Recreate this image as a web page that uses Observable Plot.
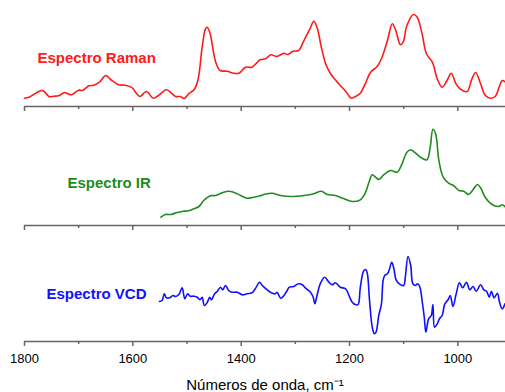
<!DOCTYPE html>
<html>
<head>
<meta charset="utf-8">
<script src="https://cdn.jsdelivr.net/npm/d3@7"></script>
<script src="https://cdn.jsdelivr.net/npm/@observablehq/plot@0.6"></script>
<style>
  html, body { margin: 0; padding: 0; background: #fff; }
  svg { display: block; }
</style>
</head>
<body>
<div id="chart"></div>
<script>
// ---- data (wavenumber in cm-1, intensity in arbitrary units) ----
const ramanWavenumber = [1800,1792,1783,1769,1764,1755,1746,1737,1726,1721,1713,1700,1693,1681,1672,1661,1650,1641,1626,1614,1601,1595,1587,1575,1562,1552,1538,1530,1521,1512,1505,1497,1487,1480,1472,1466,1463,1458,1447,1439,1426,1414,1404,1392,1380,1365,1355,1345,1334,1321,1314,1304,1294,1284,1273,1266,1260,1252,1244,1235,1224,1217,1207,1197,1189,1180,1171,1161,1149,1140,1130,1121,1115,1106,1101,1094,1082,1075,1066,1058,1047,1038,1029,1020,1012,1004,996,983,974,967,958,949,940,931,918,912];
const ramanIntensity = [8.3,9.3,12,16,15.3,10,10.3,10.7,14,13,11.7,16.3,16,20.7,21.3,24.7,31,27,21.7,21.3,18.7,14.3,10,15,8.3,11.3,16.7,14,10,10,8,12.7,16.7,26,59.3,77.7,79.3,74.3,44.3,36,35.3,33.3,33.3,39.3,39.3,46.7,47.7,51.7,50,53.3,52,55.3,56,66,77.7,85.3,79.3,59.3,42.7,32.7,25.3,21,15.3,8.3,10,13.3,22.7,34.3,40,49.3,66,82.7,76.7,61.7,64.3,81,92,89.3,72.7,52.7,44.3,27.7,19.3,26,33.3,23.3,17.7,15,27.7,34,22.7,11,8.3,10,26,24.3];

const irWavenumber = [1548,1540,1530,1518,1507,1499,1487,1478,1469,1457,1447,1435,1423,1414,1401,1389,1377,1365,1358,1343,1327,1309,1284,1266,1252,1241,1226,1210,1195,1180,1171,1164,1158,1152,1146,1137,1124,1112,1103,1094,1087,1078,1066,1057,1051,1046,1041,1035,1027,1017,1008,998,989,980,972,964,958,949,937,925,918,912];
const irIntensity = [8.3,11,11,13,14.3,14.5,16.7,19,25,29.7,30,32.7,34.3,33.3,30,27.3,28.3,29.7,31,32.3,30,29,30,31.7,34.3,31,30,26.7,24,25.7,32.3,43.3,50.7,48.3,46,50.7,55,53.3,61.7,73.3,75.7,72.3,67.3,65.7,78.3,96.3,91.7,65,48.3,42.3,40,35,34.3,31,35.7,41,37.7,27.7,21,19,20.7,18.3];

const vcdWavenumber = [1551,1546,1542,1538,1532,1526,1521,1515,1509,1504,1499,1494,1487,1481,1476,1472,1468,1463,1458,1455,1449,1444,1438,1434,1429,1423,1417,1407,1398,1389,1380,1374,1366,1361,1352,1346,1337,1334,1327,1321,1315,1311,1303,1294,1287,1281,1272,1267,1264,1260,1254,1246,1238,1232,1226,1217,1207,1201,1195,1188,1184,1180,1174,1170,1167,1163,1158,1154,1151,1146,1141,1138,1135,1130,1127,1122,1118,1114,1108,1100,1097,1092,1087,1083,1078,1074,1070,1066,1062,1059,1054,1049,1046,1043,1038,1034,1029,1024,1018,1014,1009,1003,997,991,984,978,972,966,958,952,947,942,938,933,927,923,918,913];
const vcdIntensity = [40,41,47.7,43.7,43.7,46,45,47,53.7,42.7,47.7,45.3,45.3,44.3,41.7,44.3,36,38.7,44.3,41.7,47.7,50.3,54.3,51.7,56,51,49.3,49.3,46.7,47.7,48.7,52.7,59.3,56,51.7,49.3,47.7,49.3,43.3,46,51,54.3,55,57.7,56.7,53.3,49.3,44.3,37.7,46,57.7,64.3,59.3,56.7,58.7,54.3,52.7,46,39.3,36.7,37,54.3,70.3,72,67.7,41,14.3,7.7,9.3,26,37.7,61,66,67.7,71,79.3,72.7,61.7,57.7,56,64.3,85,76,57.7,56,57.7,54.3,41,24.3,9.3,22.7,26,37,14.3,17.7,22.7,26,37.7,41.7,46,35,47.7,58.7,53.7,59.3,51.7,55,50.3,56.7,51.7,50.3,44.3,50.3,43.7,48.3,39.3,32.7,37.7];

const majorTicks = [1800, 1600, 1400, 1200, 1000];
const minorTicks = [1700, 1500, 1300, 1100];
const seriesLabels = ["Espectro Raman", "Espectro IR", "Espectro VCD"];
const seriesColors = ["#ff1a1a", "#1e8c1e", "#1010ff"];
const axisTitle = "Números de onda, cm⁻¹";

const toRows = (w, v) => w.map((x, i) => ({w: x, v: v[i]}));

const xDomain = [1800, 912];
const axisGray = "#666";

function panel({rows, color, label, height, marginBottom, yMax, dx, dy, showTickLabels}) {
  const marks = [
    Plot.ruleY([0], {stroke: axisGray, strokeWidth: 1.5}),
    Plot.axisX({ticks: majorTicks, tickSize: 5, tickPadding: 7, stroke: axisGray, strokeWidth: 1.5,
      tickFormat: showTickLabels ? (d => String(d)) : (() => ""), fontSize: 13, fill: "#000", label: null}),
    Plot.axisX({ticks: minorTicks, tickSize: 3, stroke: axisGray, strokeWidth: 1.5,
      tickFormat: () => "", label: null}),
    Plot.line(rows, {x: "w", y: "v", stroke: color, strokeWidth: 1.6, curve: "catmull-rom"}),
    Plot.text([label], {frameAnchor: "left", dx, dy, text: d => d, fill: color,
      fontWeight: "bold", fontSize: 15, textAnchor: "start"})
  ];
  if (showTickLabels) {
    marks.push(Plot.text([axisTitle], {frameAnchor: "bottom", dy: 44, text: d => d,
      fontSize: 15, fill: "#000", lineAnchor: "middle"}));
  }
  return Plot.plot({
    width: 505,
    height,
    marginTop: 0,
    marginBottom,
    marginLeft: 24,
    marginRight: 0,
    style: {fontFamily: "'Liberation Sans', Arial, sans-serif", background: "#fff"},
    x: {domain: xDomain, label: null},
    y: {domain: [0, yMax], axis: null},
    marks
  });
}

const chart = document.getElementById("chart");
chart.append(panel({rows: toRows(ramanWavenumber, ramanIntensity), color: seriesColors[0], label: seriesLabels[0],
  height: 112, marginBottom: 6, yMax: 106, dx: 13, dy: 4.5, showTickLabels: false}));
chart.append(panel({rows: toRows(irWavenumber, irIntensity), color: seriesColors[1], label: seriesLabels[1],
  height: 119, marginBottom: 6, yMax: 113, dx: 43, dy: 14.5, showTickLabels: false}));
chart.append(panel({rows: toRows(vcdWavenumber, vcdIntensity), color: seriesColors[2], label: seriesLabels[2],
  height: 161, marginBottom: 51, yMax: 110, dx: 22, dy: 8, showTickLabels: true}));
</script>
</body>
</html>
